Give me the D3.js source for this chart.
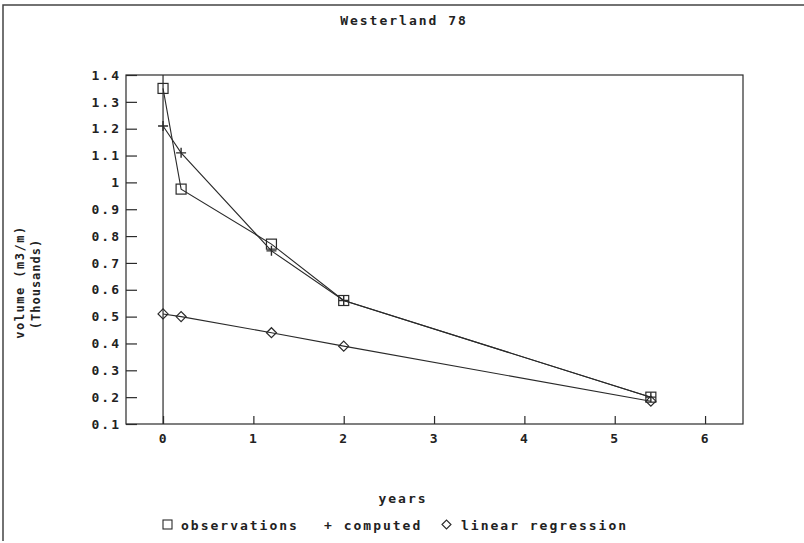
<!DOCTYPE html>
<html>
<head>
<meta charset="utf-8">
<script src="https://cdn.jsdelivr.net/npm/d3@7"></script>
<style>
  body { margin: 0; background: #fff; }
  text { font-family: "DejaVu Sans Mono", monospace; font-weight: bold; fill: #222; }
</style>
</head>
<body>
<div id="chart"></div>
<script>
// data
const years = [0, 0.2, 1.2, 2, 5.4];
const observations = [1.35, 0.975, 0.77, 0.56, 0.2];
const computed = [1.21, 1.11, 0.745, 0.56, 0.2];
const regression = [0.51, 0.5, 0.44, 0.39, 0.185];
const xTicks = [0, 1, 2, 3, 4, 5, 6];
const yTicks = [0.1, 0.2, 0.3, 0.4, 0.5, 0.6, 0.7, 0.8, 0.9, 1, 1.1, 1.2, 1.3, 1.4];

const W = 804, H = 543;
const margin = { top: 75, right: 61, bottom: 119, left: 126 };
const width = W - margin.left - margin.right,
    height = H - margin.top - margin.bottom;
const ink = "#2a2a2a";

const svg = d3.select("#chart").append("svg")
    .attr("width", W).attr("height", H);

// outer frame
svg.append("path")
    .attr("d", "M3,541 V5 H804")
    .attr("fill", "none").attr("stroke", "#444").attr("stroke-width", 1.5);

const g = svg.append("g")
    .attr("transform", "translate(" + margin.left + "," + margin.top + ")");

const x = d3.scaleLinear().domain([-0.41, 6.42]).range([0, width]);
const y = d3.scaleLinear().domain([0.1, 1.4]).range([height, 0]);

// plot box
g.append("rect")
    .attr("width", width).attr("height", height)
    .attr("fill", "none").attr("stroke", ink).attr("stroke-width", 1.2);

// zero line
g.append("line")
    .attr("x1", x(0)).attr("x2", x(0))
    .attr("y1", 0).attr("y2", height)
    .attr("stroke", ink).attr("stroke-width", 1.2);

// axes with ticks pointing inward
const yAxis = g.append("g")
    .call(d3.axisLeft(y).tickValues(yTicks).tickSizeInner(-11).tickSizeOuter(0)
        .tickPadding(5).tickFormat(d => d3.format(".1f")(d).replace(/\.0$/, "")));
const xAxis = g.append("g")
    .attr("transform", "translate(0," + height + ")")
    .call(d3.axisBottom(x).tickValues(xTicks).tickSizeInner(-8).tickSizeOuter(0)
        .tickPadding(10).tickFormat(d3.format("d")));
[yAxis, xAxis].forEach(a => {
    a.select(".domain").remove();
    a.selectAll("line").attr("stroke", ink).attr("stroke-width", 1.2);
    a.selectAll("text").attr("font-size", 13).attr("fill", "#222")
        .style("font-family", "DejaVu Sans Mono").style("font-weight", "bold")
        .style("letter-spacing", "2px");
});

const line = d3.line()
    .x(d => x(d[0]))
    .y(d => y(d[1]));

const series = [observations, computed, regression];
series.forEach(vals => {
    g.append("path")
        .datum(years.map((t, i) => [t, vals[i]]))
        .attr("fill", "none")
        .attr("stroke", ink)
        .attr("stroke-width", 1.1)
        .attr("d", line);
});

// markers
g.selectAll(".sq").data(years.map((t, i) => [t, observations[i]])).enter()
    .append("rect")
    .attr("x", d => x(d[0]) - 5).attr("y", d => y(d[1]) - 5)
    .attr("width", 10).attr("height", 10)
    .attr("fill", "none").attr("stroke", ink).attr("stroke-width", 1.2);
g.selectAll(".pl").data(years.map((t, i) => [t, computed[i]])).enter()
    .append("path")
    .attr("d", d => "M" + (x(d[0]) - 5) + "," + y(d[1]) + "h10M" + x(d[0]) + "," + (y(d[1]) - 5) + "v10")
    .attr("stroke", ink).attr("stroke-width", 1.4);
g.selectAll(".di").data(years.map((t, i) => [t, regression[i]])).enter()
    .append("path")
    .attr("d", d => {
        const cx = x(d[0]), cy = y(d[1]);
        return "M" + (cx - 5) + "," + cy + "L" + cx + "," + (cy - 5) + "L" + (cx + 5) + "," + cy + "L" + cx + "," + (cy + 5) + "Z";
    })
    .attr("fill", "none").attr("stroke", ink).attr("stroke-width", 1.2);

// texts
const spaced = sel => sel.style("letter-spacing", "2px");
spaced(svg.append("text").attr("x", 404).attr("y", 25).attr("text-anchor", "middle")
    .attr("font-size", 13).text("Westerland 78"));
spaced(svg.append("text").attr("x", 403).attr("y", 503).attr("text-anchor", "middle")
    .attr("font-size", 13).text("years"));
svg.append("text").attr("transform", "translate(24,282) rotate(-90)")
    .attr("text-anchor", "middle").attr("font-size", 12).style("letter-spacing", "1.5px")
    .text("volume (m3/m)");
svg.append("text").attr("transform", "translate(40,284) rotate(-90)")
    .attr("text-anchor", "middle").attr("font-size", 12).style("letter-spacing", "1px")
    .text("(Thousands)");

// legend
const legend = svg.append("g").attr("transform", "translate(0,530)");
legend.append("rect").attr("x", 163).attr("y", -10).attr("width", 9).attr("height", 9)
    .attr("fill", "none").attr("stroke", ink).attr("stroke-width", 1.1);
spaced(legend.append("text").attr("x", 181).attr("y", 0).attr("font-size", 13).text("observations"));
spaced(legend.append("text").attr("x", 324).attr("y", 0).attr("font-size", 13).text("+ computed"));
legend.append("path").attr("d", "M442,-5.5 L446.5,-10 L451,-5.5 L446.5,-1 Z")
    .attr("fill", "none").attr("stroke", ink).attr("stroke-width", 1.1);
spaced(legend.append("text").attr("x", 461).attr("y", 0).attr("font-size", 13).text("linear regression"));
</script>
</body>
</html>
